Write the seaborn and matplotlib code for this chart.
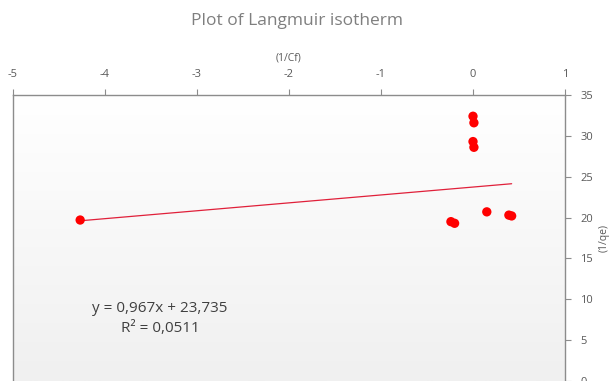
import numpy as np
import pandas as pd
import matplotlib
matplotlib.use("Agg")
import matplotlib.pyplot as plt
import seaborn as sns
from matplotlib.colors import LinearSegmentedColormap

# Data
inv_cf = [-4.27, 0.00, 0.01, 0.00, 0.01, -0.24, -0.20, 0.15, 0.39, 0.42]
inv_qe = [19.7, 32.4, 31.6, 29.3, 28.6, 19.5, 19.3, 20.7, 20.3, 20.2]
slope = 0.967
intercept = 23.735
eq_text = "y = 0,967x + 23,735"
r2_text = "R² = 0,0511"
title = "Plot of Langmuir isotherm"
x_label = "(1/Cf)"
y_label = "(1/qe)"
x_ticks = [-5, -4, -3, -2, -1, 0, 1]
y_ticks = [0, 5, 10, 15, 20, 25, 30, 35]

sns.set_style("white")
plt.rcParams['font.family'] = ['Open Sans', 'DejaVu Sans']
plt.rcParams['axes.unicode_minus'] = False

df = pd.DataFrame({"x": inv_cf, "y": inv_qe})

fig = plt.figure(figsize=(6.10, 3.81), dpi=100)
ax = fig.add_axes([13/610, 0.0, 552/610, (381-95)/381])

# gradient background
grad = np.linspace(0, 1, 256).reshape(-1, 1)
cmap = LinearSegmentedColormap.from_list("g", ["#ffffff", "#f0f0f0"])
ax.imshow(grad, aspect="auto", cmap=cmap, extent=[0, 1, 0, 1],
          transform=ax.transAxes, origin="upper", zorder=0)

sns.scatterplot(data=df, x="x", y="y", ax=ax, color="#ff0000", s=45,
                edgecolor="none", zorder=3)

xl = np.array([min(inv_cf), max(inv_cf)])
sns.lineplot(x=xl, y=slope * xl + intercept, ax=ax, color="#e0203a",
             linewidth=0.9, zorder=2)

ax.set_xlim(-5, 1)
ax.set_ylim(0, 35)
ax.set_xticks(x_ticks)
ax.set_yticks(y_ticks)

ax.xaxis.tick_top()
ax.xaxis.set_label_position("top")
ax.yaxis.tick_right()
ax.yaxis.set_label_position("right")

ax.spines["bottom"].set_visible(False)
for side in ["top", "left", "right"]:
    ax.spines[side].set_visible(True)
    ax.spines[side].set_color("#8c8c8c")
    ax.spines[side].set_linewidth(1.0)

ax.tick_params(axis="x", direction="out", length=4, width=0.8, color="#8c8c8c",
               labelsize=8, labelcolor="#595959", pad=7, top=True, bottom=False)
ax.tick_params(axis="y", direction="out", length=4, width=0.8, color="#8c8c8c",
               labelsize=8, labelcolor="#595959", pad=7, right=True, left=False)

ax.set_xlabel(x_label, fontsize=7.5, color="#595959", labelpad=6)
ax.set_ylabel(y_label, fontsize=7.5, color="#595959", labelpad=4, rotation=90)

fig.text(297/610, 1 - 21/381, title, ha="center", va="center",
         fontsize=12.5, color="#7f7f7f")

ax.text(160, 381 - 309, eq_text, transform=None, ha="center", va="center",
        fontsize=11, color="#404040")
ax.text(160, 381 - 328, r2_text, transform=None, ha="center", va="center",
        fontsize=11, color="#404040")

fig.savefig("out.png", dpi=100)
